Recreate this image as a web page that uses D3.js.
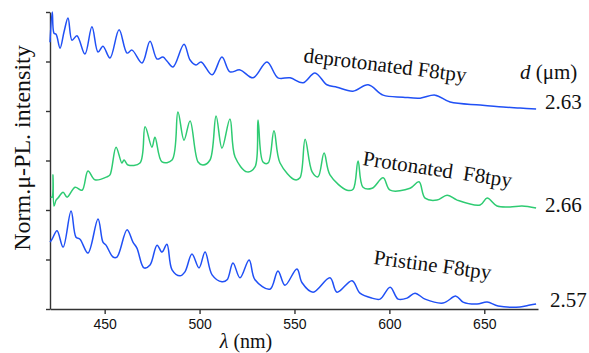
<!DOCTYPE html>
<html>
<head>
<meta charset="utf-8">
<script src="https://cdn.jsdelivr.net/npm/d3@7"></script>
<style>
  body { margin: 0; background: #fff; }
  text { font-family: "Liberation Serif", "Times New Roman", serif; fill: #111; }
  .tick text { font-family: "Liberation Sans", Arial, sans-serif; }
</style>
</head>
<body>
<svg id="chart" width="589" height="353"></svg>
<script>
// wavelength (nm), normalised intensity (offset per curve)
const xTicks = [450, 500, 550, 600, 650];
const yTicks = [0, 1, 2, 3, 4, 5, 6];

const deprotonated = [
  [421.2,5.39],[422.4,6.00],[423.3,5.57],[424.4,5.55],[426.5,5.27],[428.6,5.60],[430.7,5.88],
  [432.8,5.43],[435.4,5.52],[439.6,5.15],[443.3,5.70],[446.5,5.19],[449.1,5.31],[452.8,5.07],
  [457.6,5.64],[461.8,5.17],[464.4,5.23],[469.7,4.97],[473.9,5.41],[477.6,5.05],[480.7,5.09],
  [482.8,5.01],[486.0,4.89],[491.8,5.35],[495.0,5.03],[498.1,4.93],[500.8,4.99],[506.6,4.73],
  [511.8,5.09],[516.0,4.79],[521.3,4.83],[528.2,4.67],[535.5,4.99],[541.3,4.67],[547.7,4.67],
  [554.5,4.57],[560.8,4.77],[567.1,4.53],[572.4,4.48],[580.8,4.40],[588.8,4.53],[596.7,4.32],
  [607.2,4.28],[616.2,4.26],[624.1,4.32],[632.0,4.18],[647.8,4.12],[659.9,4.08],[668.8,4.06],
  [677.3,4.04]
];

const protonated = [
  [421.6,2.26],[422.3,2.26],[422.8,2.71],[423.3,2.08],[424.4,2.20],[425.4,2.24],[428.1,2.36],
  [430.2,2.26],[434.4,2.46],[438.1,2.40],[441.2,2.79],[444.9,2.61],[451.2,2.67],[452.8,2.71],
  [456.0,3.27],[459.1,2.95],[460.2,3.01],[462.3,2.91],[468.6,2.95],[471.3,3.68],[474.9,3.27],
  [476.5,3.47],[480.2,2.97],[485.5,3.01],[488.6,3.98],[491.8,3.41],[495.0,3.80],[499.2,2.97],
  [501.8,2.91],[505.5,3.01],[508.7,3.90],[511.8,3.25],[516.0,3.84],[518.7,3.07],[525.0,2.77],
  [529.2,2.87],[530.8,3.82],[533.4,2.97],[536.1,2.95],[539.2,3.60],[542.4,2.95],[550.3,2.61],
  [552.9,2.65],[555.6,3.43],[559.3,2.77],[562.4,2.67],[565.6,3.15],[568.7,2.71],[577.7,2.40],
  [580.9,2.42],[583.5,2.99],[586.1,2.46],[590.9,2.44],[596.7,2.65],[600.4,2.40],[610.9,2.44],
  [615.6,2.57],[618.8,2.24],[625.1,2.20],[630.4,2.30],[635.7,2.20],[647.8,2.10],[651.5,2.24],
  [656.7,2.08],[663.6,2.06],[669.9,2.08],[677.3,2.04]
];

const pristine = [
  [421.2,1.35],[422.3,1.41],[424.9,1.58],[428.1,1.25],[432.3,1.98],[434.9,1.45],[437.0,1.41],
  [441.2,1.13],[446.5,1.82],[449.1,1.35],[450.7,1.29],[454.4,1.05],[456.5,1.05],[461.8,1.60],
  [464.9,1.35],[467.0,1.23],[470.7,0.83],[473.9,0.89],[477.6,1.29],[480.2,1.15],[482.8,1.31],
  [485.5,0.79],[489.7,0.67],[492.3,0.75],[496.0,1.11],[499.7,0.83],[502.9,1.15],[506.6,0.69],
  [511.8,0.55],[514.5,0.59],[517.6,0.93],[521.3,0.63],[526.1,0.99],[529.2,0.59],[537.1,0.40],
  [541.3,0.77],[545.0,0.48],[551.3,0.81],[554.0,0.53],[559.8,0.34],[568.7,0.63],[572.4,0.34],
  [580.3,0.57],[584.5,0.32],[590.9,0.22],[595.1,0.20],[600.4,0.44],[604.6,0.20],[609.3,0.22],
  [613.5,0.32],[618.8,0.20],[628.3,0.12],[635.1,0.26],[638.8,0.14],[646.2,0.10],[651.5,0.14],
  [657.3,0.06],[668.8,0.04],[674.1,0.08],[677.3,0.10]
];

const curveNames = ["deprotonated F8tpy", "Protonated  F8tpy", "Pristine F8tpy"];
const thickness = ["2.63", "2.66", "2.57"];

const blue = "#2050f5", green = "#2ecb72";

const svg = d3.select("#chart");
const x = d3.scaleLinear().domain([421.2, 678.3]).range([50, 538]);
const y = d3.scaleLinear().domain([0, 6]).range([309, 12]);

// axes
const xAxis = svg.append("g")
  .attr("transform", "translate(0,309)")
  .call(d3.axisBottom(x).tickValues(xTicks).tickSize(5).tickSizeOuter(0).tickPadding(5));
xAxis.selectAll("text").style("font-size", "14px").attr("fill", "#333");

const yAxis = svg.append("g")
  .attr("transform", "translate(50,0)")
  .call(d3.axisLeft(y).tickValues(yTicks).tickSize(4).tickSizeOuter(0).tickFormat(""));

svg.selectAll(".domain, .tick line").attr("stroke", "#333").attr("stroke-width", 1.4);

const line = d3.line()
  .x(d => x(d[0]))
  .y(d => y(d[1]))
  .curve(d3.curveCatmullRom.alpha(0.5));

[[deprotonated, blue], [protonated, green], [pristine, blue]].forEach(([data, col]) => {
  svg.append("path")
    .datum(data)
    .attr("fill", "none")
    .attr("stroke", col)
    .attr("stroke-width", 1.5)
    .attr("stroke-linejoin", "round")
    .attr("d", line);
});

// curve labels (tilted along the spectra)
const lblPos = [[303, 62, 7], [362, 165, 8.5], [373, 264, 7.5]];
curveNames.forEach((t, i) => {
  const [px, py, rot] = lblPos[i];
  svg.append("text")
    .attr("transform", `translate(${px},${py}) rotate(${rot})`)
    .attr("xml:space", "preserve")
    .style("white-space", "pre")
    .style("font-size", "21px")
    .text(t);
});

// thickness column
const dLbl = svg.append("text").attr("x", 520).attr("y", 79).style("font-size", "21px");
dLbl.append("tspan").style("font-style", "italic").text("d");
dLbl.append("tspan").text(" (μm)");

const thkPos = [[545, 109], [545, 212], [550, 307]];
thickness.forEach((t, i) => {
  svg.append("text")
    .attr("x", thkPos[i][0]).attr("y", thkPos[i][1])
    .style("font-size", "21px")
    .text(t);
});

// axis titles
svg.append("text")
  .attr("transform", "translate(30,148) rotate(-90)")
  .attr("text-anchor", "middle")
  .style("font-size", "24px")
  .text("Norm.μ-PL. intensity");

const xt = svg.append("text")
  .attr("x", 246).attr("y", 348)
  .attr("text-anchor", "middle")
  .style("font-size", "20px");
xt.append("tspan").style("font-style", "italic").text("λ");
xt.append("tspan").text(" (nm)");
</script>
</body>
</html>
